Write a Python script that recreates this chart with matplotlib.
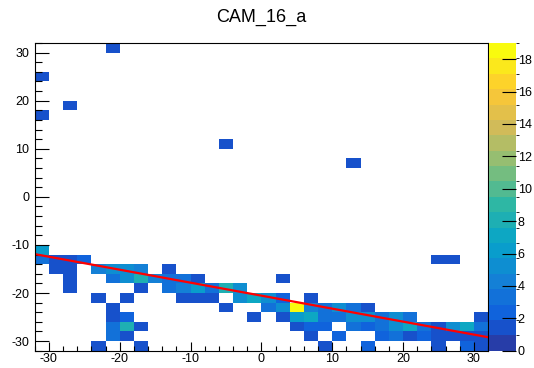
import numpy as np
import matplotlib
matplotlib.use("Agg")
import matplotlib.pyplot as plt
from matplotlib.colors import ListedColormap, BoundaryNorm

plt.rcParams['font.family'] = ['Liberation Sans', 'DejaVu Sans']
plt.rcParams['axes.unicode_minus'] = False

title = "CAM_16_a"

# filled cells: bin centre x, bin centre y, content (2x2 bins on [-32, 32])
cell_x = [-21, -31, -27, -31, -5, 13,
          -31,
          -31, -29, -27, -25, 25, 27,
          -29, -27, -23, -21, -19, -17, -13,
          -27, -21, -19, -17, -15, -13, -11, -9, 3,
          -27, -17, -13, -11, -9, -7, -5, -3,
          -23, -19, -11, -9, -7, -3, -1, 1, 3, 7,
          -21, -5, 1, 3, 5, 7, 9, 11, 13, 15,
          -21, -19, -1, 3, 5, 7, 9, 11, 13, 15, 17, 19, 21, 31,
          -21, -19, -17, 5, 7, 9, 13, 15, 17, 19, 21, 23, 25, 27, 29, 31,
          -21, -19, 7, 11, 17, 19, 21, 23, 25, 27, 29, 31,
          -23, -17, 9, 15, 25, 29, 31]
cell_y = [31, 25, 19, 17, 11, 7,
          -11,
          -13, -13, -13, -13, -13, -13,
          -15, -15, -15, -15, -15, -15, -15,
          -17, -17, -17, -17, -17, -17, -17, -17, -17,
          -19, -19, -19, -19, -19, -19, -19, -19,
          -21, -21, -21, -21, -21, -21, -21, -21, -21, -21,
          -23, -23, -23, -23, -23, -23, -23, -23, -23, -23,
          -25, -25, -25, -25, -25, -25, -25, -25, -25, -25, -25, -25, -25, -25,
          -27, -27, -27, -27, -27, -27, -27, -27, -27, -27, -27, -27, -27, -27, -27, -27,
          -29, -29, -29, -29, -29, -29, -29, -29, -29, -29, -29, -29,
          -31, -31, -31, -31, -31, -31, -31]
cell_n = [1, 1, 1, 1, 1, 1,
          6,
          3, 1, 1, 2, 1, 1,
          1, 1, 4, 5, 5, 4, 1,
          1, 3, 5, 8, 4, 3, 3, 1, 1,
          1, 1, 3, 4, 6, 3, 8, 5,
          1, 1, 1, 1, 1, 5, 7, 5, 2, 1,
          1, 1, 3, 5, 19, 4, 3, 5, 3, 1,
          1, 2, 1, 1, 6, 7, 3, 3, 5, 5, 3, 5, 3, 1,
          3, 8, 1, 1, 2, 2, 3, 2, 3, 5, 7, 3, 1, 5, 7, 3,
          3, 1, 1, 2, 2, 3, 1, 2, 1, 1, 1, 1,
          1, 1, 1, 2, 1, 2, 1]

# pol1 fit
fit_p0 = -20.55
fit_p1 = -0.27

z_max = 19
n_levels = 20

# ROOT kBird palette
stops = [0.0, 0.125, 0.25, 0.375, 0.5, 0.625, 0.75, 0.875, 1.0]
red = [0.2082, 0.0592, 0.0780, 0.0232, 0.1802, 0.5301, 0.8186, 0.9956, 0.9764]
green = [0.1664, 0.3599, 0.5041, 0.6419, 0.7178, 0.7492, 0.7328, 0.7862, 0.9832]
blue = [0.5293, 0.8684, 0.8385, 0.7914, 0.6425, 0.4662, 0.3499, 0.1968, 0.0539]


def bird(f):
    return (np.interp(f, stops, red), np.interp(f, stops, green), np.interp(f, stops, blue))


band_colors = [bird(int((k + 0.99) * 255 / n_levels) / 254) for k in range(n_levels)]
cmap = ListedColormap(band_colors)
levels = np.linspace(0, z_max, n_levels + 1)
norm = BoundaryNorm(levels, n_levels, clip=True)

W, H = 534, 368
fig = plt.figure(figsize=(W / 100, H / 100), dpi=100)
ax = fig.add_axes([34.7 / W, 1 - 350.7 / H, (488 - 34.7) / W, (350.7 - 43) / H])

ax.hist2d(cell_x, cell_y, bins=32, range=[[-32, 32], [-32, 32]], weights=cell_n,
          cmin=0.5, cmap=cmap, norm=norm)

xs = np.array([-32.0, 32.0])
ax.plot(xs, fit_p0 + fit_p1 * xs, color='red', lw=1.6)

ax.set_xlim(-32, 32)
ax.set_ylim(-32, 32)
ax.set_xticks(np.arange(-30, 31, 10))
ax.set_yticks(np.arange(-30, 31, 10))
ax.set_xticks(np.arange(-32, 33, 2), minor=True)
ax.set_yticks(np.arange(-32, 33, 2), minor=True)
ax.tick_params(axis='x', which='major', direction='in', length=6.6, width=0.8, labelsize=9, pad=2)
ax.tick_params(axis='x', which='minor', direction='in', length=3.3, width=0.8)
ax.tick_params(axis='y', which='major', direction='in', length=9.8, width=0.8, labelsize=9, pad=4)
ax.tick_params(axis='y', which='minor', direction='in', length=4.9, width=0.8)
for s in ax.spines.values():
    s.set_linewidth(0.8)

# colour scale
cax = fig.add_axes([489.3 / W, 1 - 350.7 / H, 26.4 / W, (350.7 - 43) / H])
sm = plt.cm.ScalarMappable(norm=norm, cmap=cmap)
cb = fig.colorbar(sm, cax=cax)
cb.outline.set_visible(False)
cb.set_ticks(np.arange(0, 19, 2))
cax.tick_params(direction='in', length=10, width=0.8, labelsize=9, pad=1.5, color='black')

fig.text(261 / W, 1 - 17 / H, title, ha='center', va='center', fontsize=13)

fig.savefig("out.png", dpi=100)
